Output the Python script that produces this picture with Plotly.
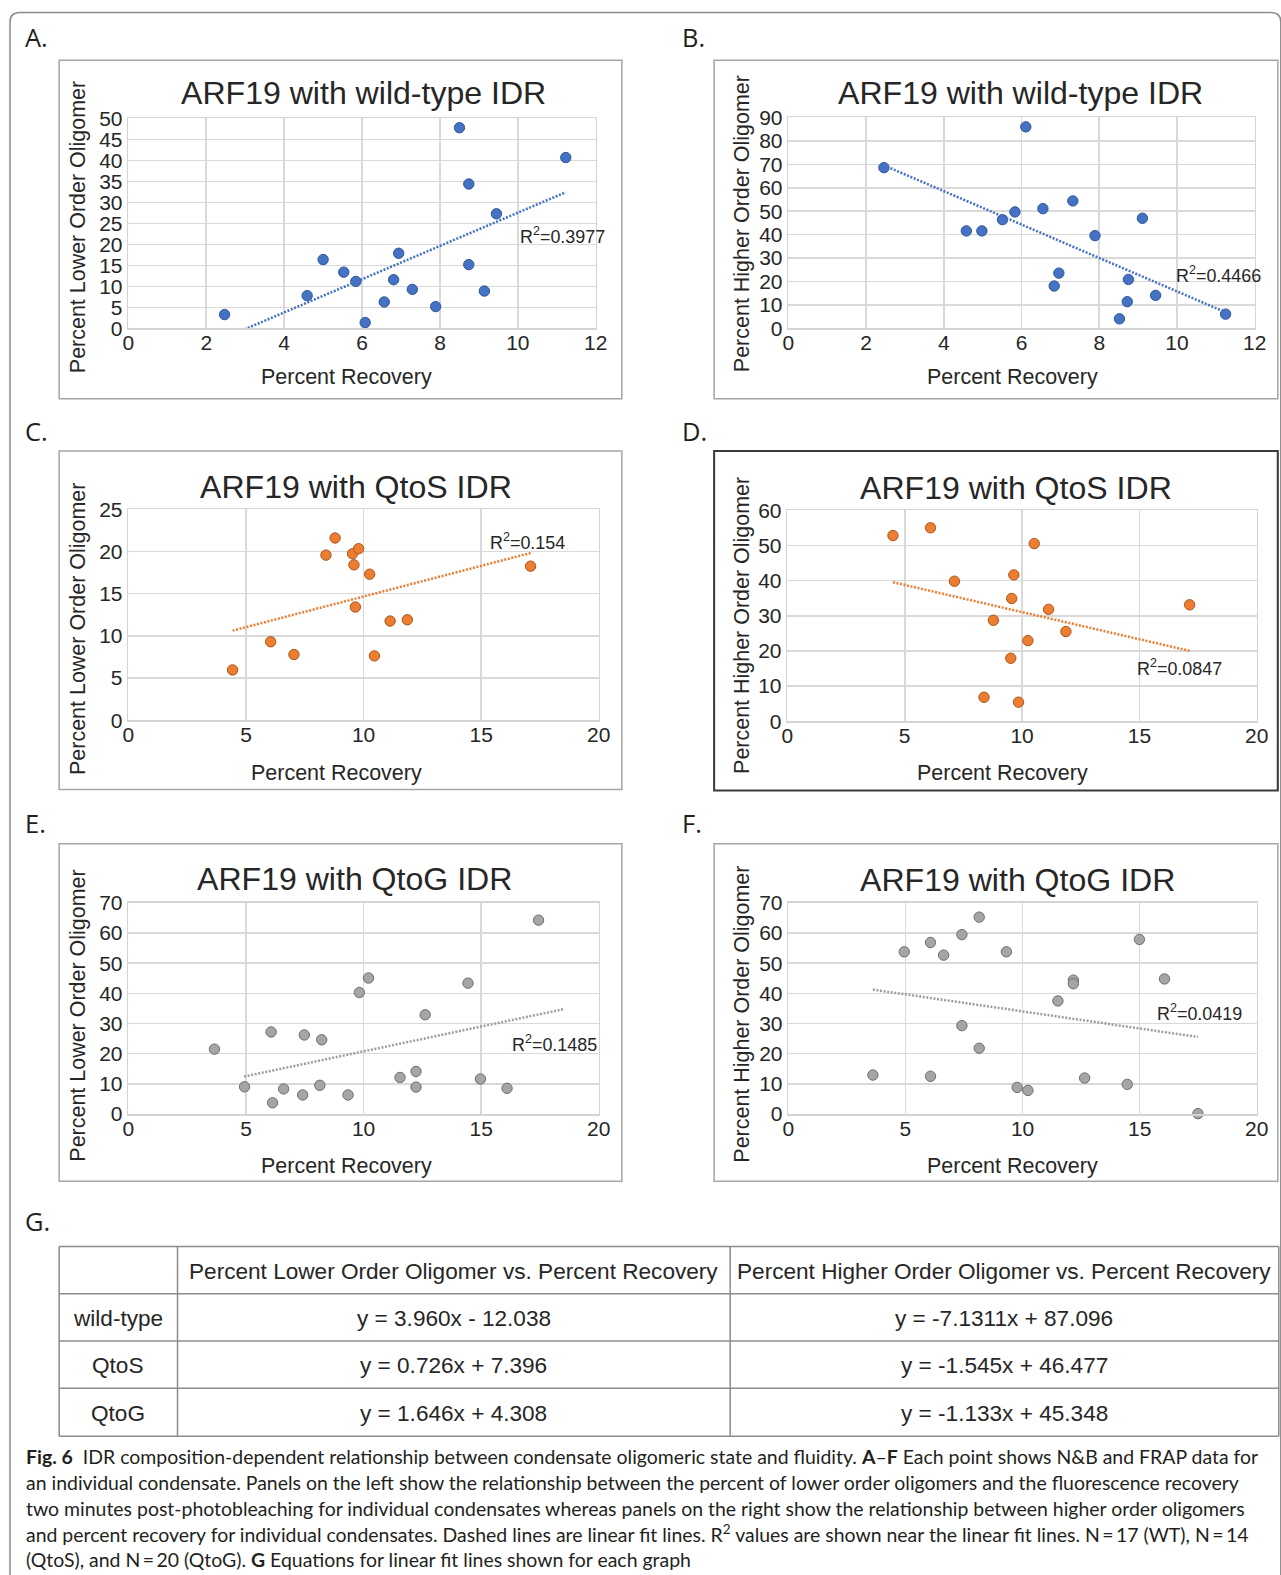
import plotly.graph_objects as go

# ---------------- data ----------------
wt_recovery_lower = [2.47, 4.59, 5.00, 5.53, 5.84, 6.08, 6.57, 6.81, 6.94, 7.29, 7.89, 8.50, 8.74, 8.74, 9.14, 9.45, 11.23]
wt_lower = [3.3, 7.8, 16.4, 13.4, 11.2, 1.4, 6.3, 11.6, 17.9, 9.3, 5.2, 47.8, 34.4, 15.2, 8.9, 27.3, 40.7]
wt_recovery_higher = [2.46, 4.58, 4.98, 5.51, 5.83, 6.11, 6.55, 6.84, 6.96, 7.32, 7.89, 8.52, 8.72, 8.75, 9.11, 9.45, 11.25]
wt_higher = [68.6, 41.6, 41.6, 46.4, 49.7, 86.0, 51.1, 18.1, 23.6, 54.4, 39.6, 4.1, 11.4, 20.9, 47.0, 14.1, 6.1]

qtos_recovery_lower = [4.43, 6.05, 7.04, 8.40, 8.79, 9.53, 9.59, 9.65, 9.79, 10.26, 10.46, 11.13, 11.86, 17.10]
qtos_lower = [5.95, 9.29, 7.78, 19.56, 21.59, 19.72, 18.41, 13.41, 20.32, 17.3, 7.62, 11.75, 11.9, 18.25]
qtos_recovery_higher = [4.50, 6.10, 7.12, 8.38, 8.78, 9.52, 9.56, 9.65, 9.85, 10.25, 10.52, 11.13, 11.87, 17.14]
qtos_higher = [52.8, 55.0, 39.8, 6.8, 28.7, 17.9, 34.9, 41.6, 5.4, 22.9, 50.5, 31.8, 25.5, 33.1]

qtog_recovery_lower = [3.66, 4.94, 6.07, 6.13, 6.60, 7.41, 7.48, 8.14, 8.22, 9.34, 9.82, 10.21, 11.55, 12.23, 12.23, 12.62, 14.44, 14.97, 16.10, 17.44]
qtog_lower = [21.5, 9.0, 27.2, 3.7, 8.3, 6.3, 26.2, 9.5, 24.6, 6.3, 40.3, 45.1, 12.1, 14.1, 8.9, 32.9, 43.4, 11.6, 8.5, 64.3]
qtog_recovery_higher = [3.61, 4.95, 6.07, 6.07, 6.63, 7.41, 7.41, 8.15, 8.15, 9.31, 9.77, 10.23, 11.51, 12.17, 12.17, 12.65, 14.47, 14.99, 16.06, 17.49]
qtog_higher = [12.9, 53.8, 56.9, 12.5, 52.7, 59.5, 29.3, 65.3, 21.8, 53.8, 8.8, 7.8, 37.5, 44.4, 43.2, 11.9, 9.8, 57.9, 44.8, 0.1]

# linear fits (table G) and the x-span drawn for each fit line
lower_slope = [3.960, 0.726, 1.646]
lower_intercept = [-12.038, 7.396, 4.308]
higher_slope = [-7.1311, -1.545, -1.133]
higher_intercept = [87.096, 46.477, 45.348]
trend_span = [[2.47, 11.23], [2.46, 11.25], [4.43, 17.10], [4.50, 17.14], [4.92, 18.5], [3.61, 17.49]]
r_squared = ["0.3977", "0.4466", "0.154", "0.0847", "0.1485", "0.0419"]

panel_titles = ["ARF19 with wild-type IDR", "ARF19 with wild-type IDR",
                "ARF19 with QtoS IDR", "ARF19 with QtoS IDR",
                "ARF19 with QtoG IDR", "ARF19 with QtoG IDR"]
panel_letters = ["A.", "B.", "C.", "D.", "E.", "F."]
y_titles = ["Percent Lower Order Oligomer", "Percent Higher Order Oligomer"] * 3
x_title = "Percent Recovery"
x_max = [12, 12, 20, 20, 20, 20]
x_dtick = [2, 2, 5, 5, 5, 5]
y_max = [50, 90, 25, 60, 70, 70]
y_dtick = [5, 10, 5, 10, 10, 10]

table_conditions = ["wild-type", "QtoS", "QtoG"]
table_header = ["", "Percent Lower Order Oligomer vs. Percent Recovery",
                "Percent Higher Order Oligomer vs. Percent Recovery"]
lower_equations = ["y = 3.960x - 12.038", "y = 0.726x + 7.396", "y = 1.646x + 4.308"]
higher_equations = ["y = -7.1311x + 87.096", "y = -1.545x + 46.477", "y = -1.133x + 45.348"]

caption_lines = [
    "<b>Fig. 6</b>  IDR composition-dependent relationship between condensate oligomeric state and fluidity. <b>A</b>–<b>F</b> Each point shows N&amp;B and FRAP data for",
    "an individual condensate. Panels on the left show the relationship between the percent of lower order oligomers and the fluorescence recovery",
    "two minutes post-photobleaching for individual condensates whereas panels on the right show the relationship between higher order oligomers",
    "and percent recovery for individual condensates. Dashed lines are linear fit lines. R<sup>2</sup> values are shown near the linear fit lines. N\u2009=\u200917 (WT), N\u2009=\u200914",
    "(QtoS), and N\u2009=\u200920 (QtoG). <b>G</b> Equations for linear fit lines shown for each graph",
]

# ---------------- layout / styling ----------------
W, H = 1281, 1575
# the photographed page comes back slightly shrunk and shifted; pre-compensate positions/sizes
SX, AX = 0.983, 5.0
SY, AY = 0.981, 12.0
K = 1 / 0.982
def fx(p):
    return ((p - AX) / SX) / W
def fy(p):
    return 1 - ((p - AY) / SY) / H

FONT = "Liberation Sans, Arial, sans-serif"
CAP_FONT = "Lato, Open Sans, sans-serif"
TXT = "#262626"

series = [
    (wt_recovery_lower, wt_lower, lower_slope[0], lower_intercept[0]),
    (wt_recovery_higher, wt_higher, higher_slope[0], higher_intercept[0]),
    (qtos_recovery_lower, qtos_lower, lower_slope[1], lower_intercept[1]),
    (qtos_recovery_higher, qtos_higher, higher_slope[1], higher_intercept[1]),
    (qtog_recovery_lower, qtog_lower, lower_slope[2], lower_intercept[2]),
    (qtog_recovery_higher, qtog_higher, higher_slope[2], higher_intercept[2]),
]
marker_fill = ["#4472C4", "#4472C4", "#ED7D31", "#ED7D31", "#A5A5A5", "#A5A5A5"]
marker_edge = ["#2F5597", "#2F5597", "#A9561C", "#A9561C", "#6E6E6E", "#6E6E6E"]
trend_color = ["#4472C4", "#4472C4", "#ED7D31", "#ED7D31", "#9E9E9E", "#9E9E9E"]

# plot-area pixel boxes (reference px): (left, right, bottom, top)
plot_px = [(127, 593, 327, 118), (785, 1250, 327, 117),
           (127, 596, 717, 507), (784, 1252, 718, 508),
           (127, 596, 1109, 899), (785, 1252, 1109, 899)]
# outer chart boxes (left, top, right, bottom)
box_px = [(58, 60, 619, 397), (711, 60, 1273, 397),
          (58, 449, 619, 786), (711, 449, 1273, 787),
          (58, 840, 619, 1176), (711, 840, 1273, 1176)]
title_px = [(361, 93), (1016, 93), (354, 485), (1012, 486), (352, 875), (1013, 876)]
ytitle_px = [(77, 226), (739, 223), (77, 626), (739, 623), (77, 1011), (739, 1010)]
xtitle_px = [(344, 375), (1008, 375), (335, 770), (999, 770), (344, 1161), (1008, 1161)]
r2_px = [(515, 235), (1170, 273), (486, 539), (1131, 665), (507, 1039), (1151, 1008)]
letter_px = [(22, 37), (677, 37), (22, 429), (677, 429), (22, 819), (677, 819)]

table_col_edges = [58, 176, 727, 1274]
table_row_edges = [1241, 1288, 1335, 1382, 1430]
cap_y = [1450, 1476, 1502, 1527, 1553]

fig = go.Figure()
shapes = []
annotations = []

def note(text, x, y, size, family=FONT, color=TXT, xanchor="center", angle=0):
    annotations.append(dict(text=text, x=fx(x), y=fy(y), xref="paper", yref="paper",
                            showarrow=False, xanchor=xanchor, yanchor="middle", textangle=angle,
                            font=dict(family=family, size=size, color=color)))

for i, (xs, ys, m, b) in enumerate(series):
    k = "" if i == 0 else str(i + 1)
    xa, ya = "x" + k, "y" + k
    fig.add_trace(go.Scatter(
        x=xs, y=ys, mode="markers", xaxis=xa, yaxis=ya,
        marker=dict(size=10.2 * K, color=marker_fill[i], line=dict(color=marker_edge[i], width=1)),
        cliponaxis=False, hoverinfo="skip"))
    tx = trend_span[i]
    fig.add_trace(go.Scatter(
        x=tx, y=[m * v + b for v in tx], mode="lines", xaxis=xa, yaxis=ya,
        line=dict(color=trend_color[i], width=2.5 * K, dash="2px,1.6px"), hoverinfo="skip"))

    l, r, btm, top = plot_px[i]
    axis_common = dict(showgrid=True, gridcolor="#d9d9d9", gridwidth=1.6 * K,
                       zeroline=False, showline=True, mirror=True,
                       linecolor="#d4d4d4", linewidth=1.6 * K, ticks="",
                       tickfont=dict(family=FONT, size=20.6 * K, color=TXT), fixedrange=True)
    fig.layout["xaxis" + k] = dict(domain=[fx(l), fx(r)], anchor=ya, range=[0, x_max[i]],
                                   dtick=x_dtick[i], tick0=0, ticklabelstandoff=-5, **axis_common)
    fig.layout["yaxis" + k] = dict(domain=[fy(btm), fy(top)], anchor=xa, range=[0, y_max[i]],
                                   dtick=y_dtick[i], tick0=0, ticklabelstandoff=0, **axis_common)

    bl, bt, br, bb = box_px[i]
    shapes.append(dict(type="rect", xref="paper", yref="paper",
                       x0=fx(bl), x1=fx(br), y0=fy(bb), y1=fy(bt),
                       line=dict(color="#3a3a3a" if i == 3 else "#a6a6a6",
                                 width=(2 if i == 3 else 1.5) * K)))

    note(panel_titles[i], *title_px[i], 31.5 * K)
    note(y_titles[i], *ytitle_px[i], 21.1 * K, angle=-90)
    note(x_title, *xtitle_px[i], 21.1 * K)
    note("R<sup>2</sup>=" + r_squared[i], *r2_px[i], 17.6 * K, xanchor="left")
    note(panel_letters[i], *letter_px[i], 25 * K, family="Open Sans, sans-serif", color="#231f20", xanchor="left")

note("G.", 22, 1216, 25 * K, family="Open Sans, sans-serif", color="#231f20", xanchor="left")

# table G: grid lines and cell texts
for yy in table_row_edges:
    shapes.append(dict(type="line", xref="paper", yref="paper",
                       x0=fx(table_col_edges[0]), x1=fx(table_col_edges[-1]), y0=fy(yy), y1=fy(yy),
                       line=dict(color="#8c8c8c", width=1.5 * K)))
for xx in table_col_edges:
    shapes.append(dict(type="line", xref="paper", yref="paper",
                       x0=fx(xx), x1=fx(xx), y0=fy(table_row_edges[0]), y1=fy(table_row_edges[-1]),
                       line=dict(color="#8c8c8c", width=1.5 * K)))
table_columns = [[table_header[0]] + table_conditions,
                 [table_header[1]] + lower_equations,
                 [table_header[2]] + higher_equations]
for c, col in enumerate(table_columns):
    cx = (table_col_edges[c] + table_col_edges[c + 1]) / 2
    for rr, txt in enumerate(col):
        if txt:
            cy = (table_row_edges[rr] + table_row_edges[rr + 1]) / 2 + 1
            note(txt, cx, cy, 22.2 * K)

# caption
for line, yy in zip(caption_lines, cap_y):
    note(line, 23, yy, 19.1 * K, family=CAP_FONT, color="#231f20", xanchor="left")

# outer figure frame (left and top edges with rounded corners)
shapes.append(dict(type="path", xref="paper", yref="paper",
                   path=f"M {fx(9)} {fy(1600)} L {fx(9)} {fy(22)} Q {fx(9)} {fy(12.6)} {fx(19)} {fy(12.6)} "
                        f"L {fx(1266)} {fy(12.6)} Q {fx(1276)} {fy(12.6)} {fx(1276)} {fy(22)} L {fx(1276)} {fy(1600)}",
                   line=dict(color="#8c8c8c", width=1.5 * K)))

fig.update_layout(width=W, height=H, margin=dict(l=0, r=0, t=0, b=0),
                  paper_bgcolor="white", plot_bgcolor="white", showlegend=False,
                  shapes=shapes, annotations=annotations)

fig.write_html("out.html", config={"displayModeBar": False, "staticPlot": True},
               post_script="document.body.style.margin='0';document.body.style.overflow='hidden';")
